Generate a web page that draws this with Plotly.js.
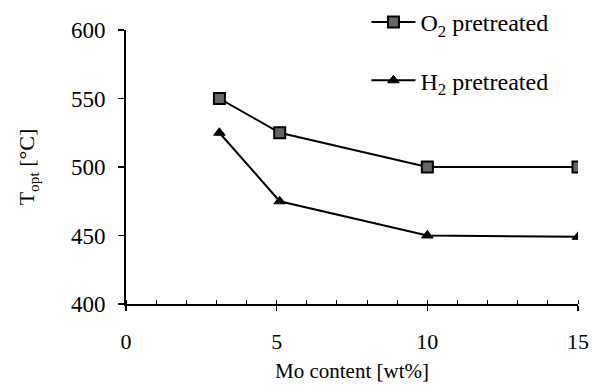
<!DOCTYPE html>
<html><head><meta charset="utf-8">
<script src="https://cdn.plot.ly/plotly-3.0.1.min.js"></script>
<style>body{margin:0;background:#fff}#c{width:592px;height:389px}</style>
</head><body><div id="c"></div>
<script>
const moContent = [3.1, 5.1, 10, 15];
const o2Pretreated = [550, 525, 500, 500];
const h2Pretreated = [525, 475, 450, 449];
const seriesNames = ['O<sub>2</sub> pretreated', 'H<sub>2</sub> pretreated'];
const xTicks = [0, 5, 10, 15];
const yTicks = [400, 450, 500, 550, 600];

const FAM = '"Liberation Serif", "Times New Roman", serif';
const traces = [
  {x: moContent, y: o2Pretreated, name: seriesNames[0], legendgroup: 'o2', mode: 'lines+markers',
   line: {color: '#000', width: 2},
   marker: {symbol: 'square', size: 11, color: '#666', line: {color: '#000', width: 2}}},
  {x: moContent, y: h2Pretreated, name: seriesNames[1], legendgroup: 'h2', mode: 'lines+markers',
   line: {color: '#000', width: 2},
   marker: {symbol: 'triangle-up', size: 10, color: '#000', line: {color: '#000', width: 1}}}
];
const layout = {
  width: 592, height: 389,
  margin: {l: 126, r: 14, t: 30, b: 85, autoexpand: false},
  paper_bgcolor: '#fff', plot_bgcolor: '#fff',
  font: {family: FAM, color: '#000', size: 20},
  showlegend: true,
  legend: {xref: 'paper', yref: 'container', x: 0.532, y: 1.0, xanchor: 'left', yanchor: 'top', bgcolor: 'rgba(0,0,0,0)',
           font: {family: FAM, size: 24, color: '#000'}, tracegroupgap: 24, itemwidth: 44},
  xaxis: {range: [0, 15], tickvals: xTicks, ticktext: xTicks.map(String), showgrid: false, zeroline: false,
          showline: true, linecolor: '#000', linewidth: 2, ticks: 'outside', ticklen: 5, tickwidth: 1.5, tickcolor: '#000',
          ticklabelstandoff: 12,
          minor: {dtick: 1, ticks: 'inside', ticklen: 4, tickwidth: 1, tickcolor: '#000', showgrid: false},
          tickfont: {family: FAM, size: 22}, title: {text: 'Mo content [wt%]', font: {family: FAM, size: 21}, standoff: 10}},
  yaxis: {range: [400, 600], tickvals: yTicks, ticktext: yTicks.map(String), showgrid: false, zeroline: false,
          showline: true, linecolor: '#000', linewidth: 2, ticks: 'outside', ticklen: 6, tickwidth: 1.5, tickcolor: '#000',
          ticklabelstandoff: 8,
          tickfont: {family: FAM, size: 23}, title: {text: 'T<sub>opt</sub> [°C]', font: {family: FAM, size: 22}, standoff: 30}}
};
Plotly.newPlot('c', traces, layout, {displayModeBar: false, staticPlot: true});
</script></body></html>
